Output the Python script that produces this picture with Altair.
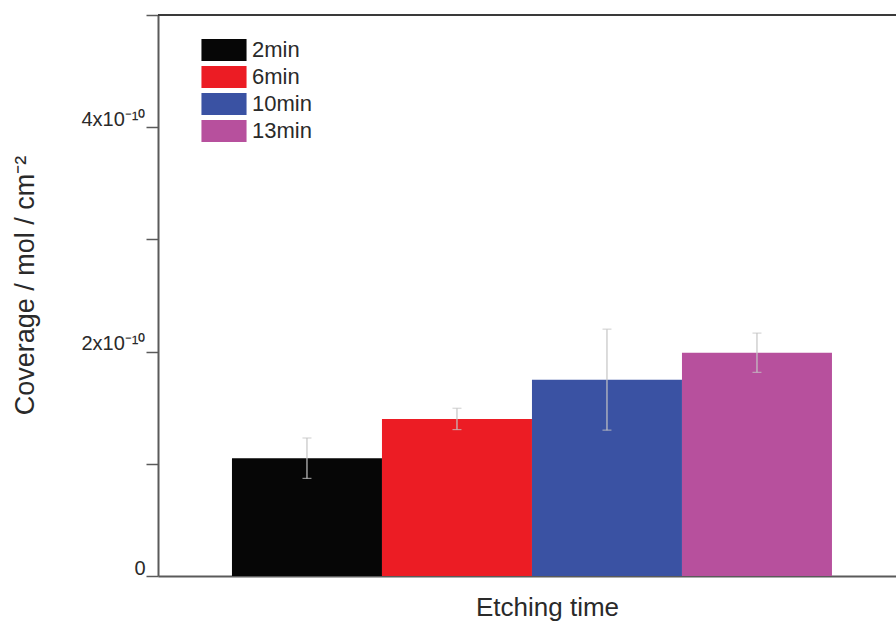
import altair as alt
import pandas as pd

# Surface coverage per etching time (mol / cm^2), with error half-widths
times = ["2min", "6min", "10min", "13min"]
coverage = [1.05e-10, 1.40e-10, 1.75e-10, 1.99e-10]
errors = [0.18e-10, 0.095e-10, 0.45e-10, 0.175e-10]
colors = ["#060606", "#EC1C24", "#3A52A3", "#B7509D"]

y_ticks = [0, 1e-10, 2e-10, 3e-10, 4e-10, 5e-10]
y_max = 5e-10

df = pd.DataFrame({
    "time": times,
    "coverage": coverage,
    "lo": [c - e for c, e in zip(coverage, errors)],
    "hi": [c + e for c, e in zip(coverage, errors)],
})

FONT = "Liberation Sans"
AXIS_GREY = "#5a5a5a"

x_enc = alt.X(
    "time:N",
    sort=times,
    scale=alt.Scale(paddingInner=0, paddingOuter=0.46, align=0.536),
    axis=alt.Axis(
        title="Etching time", labels=False, ticks=False,
        domainColor=AXIS_GREY, domainWidth=2,
        titleFont=FONT, titleFontSize=26, titleFontWeight="normal",
        titleColor="#2a2a2a", titleX=389, titleY=31, titleBaseline="middle",
    ),
)

y_scale = alt.Scale(domain=[0, y_max], nice=False)

# Legend swatch: a 45x22 rectangle drawn from a path on a 22px symbol box
bars = alt.Chart(df).mark_bar(opacity=1).encode(
    x=x_enc,
    y=alt.Y(
        "coverage:Q",
        scale=y_scale,
        axis=alt.Axis(
            title="Coverage / mol / cm⁻²",
            values=y_ticks,
            labelExpr="round(datum.value*1e10) == 0 ? '0' : "
                      "(round(datum.value*1e10) % 2 == 0 ? "
                      "round(datum.value*1e10) + 'x10⁻¹⁰' : '')",
            grid=False, tickSize=12, tickColor=AXIS_GREY, tickWidth=1.5,
            domainColor=AXIS_GREY, domainWidth=2,
            labelFont=FONT, labelFontSize=20, labelColor="#2a2a2a",
            labelPadding=1, labelBaseline="alphabetic", labelOffset=-2,
            titleFont=FONT, titleFontSize=27, titleFontWeight="normal",
            titleColor="#2a2a2a", titleX=-133, titleY=270,
            titleAngle=270, titleAlign="center", titleBaseline="middle",
        ),
    ),
    color=alt.Color(
        "time:N",
        sort=times,
        scale=alt.Scale(domain=times, range=colors),
        legend=alt.Legend(
            title=None, orient="none", legendX=55, legendY=24,
            symbolType="M-2.05,-1H2.05V1H-2.05Z", symbolSize=484,
            symbolStrokeWidth=0, symbolOpacity=1,
            labelFont=FONT, labelFontSize=22, labelColor="#2a2a2a",
            labelOffset=17, rowPadding=5, padding=0, offset=0,
        ),
    ),
)

err_rule = alt.Chart(df).mark_rule(color="#c4c4c4", strokeWidth=1.2).encode(
    x=alt.X("time:N", sort=times),
    y=alt.Y("lo:Q", scale=y_scale),
    y2="hi:Q",
)

err_caps_hi = alt.Chart(df).mark_tick(
    color="#c4c4c4", thickness=1.2, size=9, orient="horizontal"
).encode(x=alt.X("time:N", sort=times), y=alt.Y("hi:Q", scale=y_scale))

err_caps_lo = alt.Chart(df).mark_tick(
    color="#c4c4c4", thickness=1.2, size=9, orient="horizontal"
).encode(x=alt.X("time:N", sort=times), y=alt.Y("lo:Q", scale=y_scale))

# Frame line along the top of the plot area
top_line = alt.Chart(pd.DataFrame({"v": [y_max]})).mark_rule(
    color="#3a3a3a", strokeWidth=2
).encode(y=alt.Y("v:Q", scale=y_scale), x=alt.value(0), x2=alt.value(738))

chart = alt.layer(bars, err_rule, err_caps_hi, err_caps_lo, top_line).properties(
    width=738,
    height=561,
    autosize=alt.AutoSizeParams(type="none"),
    padding={"left": 158, "top": 15, "right": 0, "bottom": 45},
    background="white",
).configure_view(stroke=None)

chart.save("out.html", embed_options={"renderer": "svg", "actions": False})
